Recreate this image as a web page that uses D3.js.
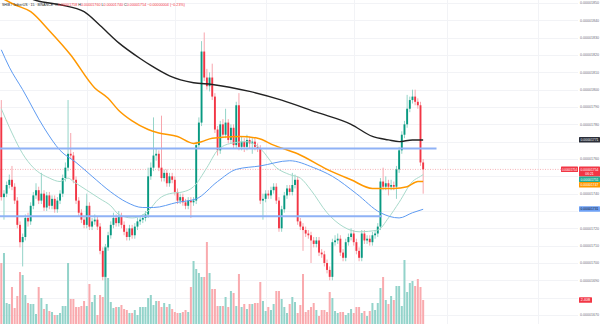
<!DOCTYPE html>
<html><head><meta charset="utf-8">
<script src="https://cdn.jsdelivr.net/npm/d3@7"></script>
<style>html,body{margin:0;padding:0;background:#fff;overflow:hidden}svg{display:block;font-family:"Liberation Sans",Arial,sans-serif}</style>
</head><body><svg id="c" width="600" height="324"></svg>
<script>
// prices in units of 1e-8 USDT
const opens = [1784,1738,1740,1745,1748,1744,1736,1722,1712,1715,
 1726,1724,1733,1739,1742,1736,1740,1732,1739,1733,
 1737,1731,1736,1740,1749,1755,1763,1762,1748,1736,
 1729,1725,1722,1733,1721,1724,1725,1721,1707,1692,
 1709,1716,1722,1726,1723,1727,1722,1718,1715,1720,
 1716,1721,1724,1725,1726,1728,1750,1755,1762,1763,
 1755,1749,1752,1746,1750,1748,1741,1736,1738,1735,
 1733,1736,1735,1736,1768,1781,1822,1807,1802,1807,
 1796,1777,1765,1780,1774,1781,1771,1778,1768,1791,
 1767,1770,1767,1771,1769,1770,1767,1766,1736,1737,
 1740,1739,1742,1744,1736,1720,1731,1739,1743,1741,
 1745,1748,1724,1721,1719,1717,1716,1713,1711,1713,
 1706,1705,1700,1696,1692,1712,1713,1714,1706,1703,
 1712,1715,1717,1712,1707,1703,1717,1713,1714,1712,
 1716,1717,1721,1747,1744,1746,1744,1745,1744,1754,
 1765,1774,1780,1789,1794,1796,1793,1791,1758];
const highs = [1794,1742,1747,1751,1756,1746,1738,1724,1717,1728,
 1729,1735,1741,1746,1744,1752,1742,1741,1741,1739,
 1739,1738,1742,1751,1758,1794,1775,1764,1750,1738,
 1731,1727,1740,1735,1726,1728,1727,1723,1709,1711,
 1718,1724,1729,1728,1730,1729,1724,1720,1722,1722,
 1723,1726,1727,1728,1730,1755,1758,1784,1766,1765,
 1785,1754,1754,1752,1752,1750,1743,1740,1740,1737,
 1738,1738,1738,1770,1784,1828,1833,1812,1810,1815,
 1798,1779,1782,1783,1789,1783,1780,1780,1793,1798,
 1773,1772,1774,1773,1772,1772,1769,1768,1740,1742,
 1742,1744,1746,1746,1738,1733,1741,1745,1745,1752,
 1751,1750,1726,1723,1721,1719,1718,1715,1715,1715,
 1708,1707,1702,1698,1714,1716,1717,1716,1708,1714,
 1717,1720,1719,1714,1709,1719,1719,1716,1716,1718,
 1719,1723,1749,1755,1750,1748,1748,1747,1756,1767,
 1776,1782,1797,1796,1800,1800,1795,1793,1760];
const lows = [1736,1725,1738,1743,1742,1734,1720,1709,1698,1713,
 1721,1722,1731,1737,1734,1734,1730,1730,1731,1731,
 1729,1729,1734,1738,1747,1753,1760,1746,1734,1727,
 1723,1720,1720,1719,1719,1722,1719,1705,1690,1690,
 1707,1714,1720,1721,1721,1720,1716,1713,1713,1714,
 1714,1719,1722,1723,1724,1726,1748,1753,1759,1753,
 1747,1747,1744,1744,1746,1739,1734,1734,1733,1731,
 1731,1726,1733,1734,1766,1779,1805,1800,1799,1794,
 1775,1762,1763,1772,1772,1769,1769,1766,1766,1765,
 1765,1764,1765,1766,1763,1765,1764,1734,1725,1735,
 1737,1737,1740,1734,1718,1718,1729,1737,1739,1739,
 1743,1722,1719,1707,1715,1714,1700,1709,1709,1704,
 1703,1698,1694,1690,1690,1710,1711,1704,1701,1701,
 1710,1713,1710,1705,1701,1701,1711,1711,1710,1710,
 1714,1715,1719,1742,1742,1739,1742,1742,1737,1752,
 1763,1772,1778,1787,1792,1791,1789,1756,1740];
const closes = [1738,1740,1745,1748,1744,1736,1722,1712,1715,1726,
 1724,1733,1739,1742,1736,1740,1732,1739,1733,1737,
 1731,1736,1740,1749,1755,1763,1762,1748,1736,1729,
 1725,1722,1733,1721,1724,1725,1721,1707,1692,1709,
 1716,1722,1726,1723,1727,1722,1718,1715,1720,1716,
 1721,1724,1725,1726,1728,1750,1755,1762,1763,1755,
 1749,1752,1746,1750,1748,1741,1736,1738,1735,1733,
 1736,1735,1736,1768,1781,1822,1807,1802,1807,1796,
 1777,1765,1780,1774,1781,1771,1778,1768,1791,1767,
 1770,1767,1771,1769,1770,1767,1766,1736,1737,1740,
 1739,1742,1744,1736,1720,1731,1739,1743,1741,1745,
 1748,1724,1721,1719,1717,1716,1713,1711,1713,1706,
 1705,1700,1696,1692,1712,1713,1714,1706,1703,1712,
 1715,1717,1712,1707,1703,1717,1713,1714,1712,1716,
 1717,1721,1747,1744,1746,1744,1745,1744,1754,1765,
 1774,1780,1789,1794,1796,1793,1791,1758,1754];
// volume in units of 1e8 SHIB
const volumes = [61,71,21,20,37,16,28,52,49,29,
 21,20,20,10,37,26,15,20,13,12,
 9,9,11,18,18,61,25,25,17,17,
 18,23,18,40,22,29,9,29,27,78,
 46,22,16,17,17,19,15,14,11,11,
 14,9,17,17,17,26,29,19,23,23,
 17,21,17,20,15,12,11,11,12,14,
 12,37,63,55,51,47,47,82,51,35,
 35,18,18,18,27,17,33,31,18,50,
 17,20,15,20,20,21,21,42,23,13,
 17,14,20,33,33,25,17,11,20,27,
 22,11,19,50,12,14,17,21,14,8,
 14,14,12,32,26,13,11,12,12,9,
 11,15,11,17,17,11,13,8,13,21,
 14,21,36,47,24,20,28,24,38,38,
 18,64,32,41,43,38,45,37,24];
// moving averages read at candle indices
const maBlackIdx = [7,12,22,31,37,44,52,56,63,72,79,93,105,118,131,139,145,149,154,158];
const maBlackVal = [1859,1852,1849,1845,1837,1827,1818,1814,1808,1804,1803,1799,1794,1787,1780,1773,1771,1770,1771,1771];
const maOrangeIdx = [0,5,11,18,26,35,40,44,49,55,59,66,72,75,79,89,96,102,111,122,131,139,147,152,156,158];
const maOrangeVal = [1853,1849,1845,1834,1820,1801,1795,1788,1782,1777,1775,1773,1769,1770,1772,1773,1772,1768,1763,1754,1748,1743,1743,1744,1747,1747];
const maBlueIdx = [0,3,8,16,22,28,34,41,47,53,57,66,73,81,88,97,108,117,124,133,142,149,154,158];
const maBlueVal = [1823,1813,1800,1778,1765,1758,1750,1741,1735,1732,1732,1735,1737,1747,1754,1756,1759,1755,1750,1740,1729,1726,1729,1731];
const maGreenIdx = [0,4,8,12,18,22,25,27,32,37,41,44,49,55,59,63,68,72,77,81,86,92,97,103,108,112,116,122,128,134,141,145,149,154,157,158];
const maGreenVal = [1789,1775,1763,1755,1749,1747,1749,1747,1742,1737,1733,1728,1726,1730,1737,1740,1741,1744,1755,1765,1769,1770,1766,1755,1751,1749,1742,1729,1721,1718,1719,1726,1735,1747,1750,1751];
// horizontal levels: price and last index they reach
const levelPrices = [1766, 1727];
const levelEnds = [163, 142.6];
const priceTicks = [1850,1840,1830,1820,1810,1800,1790,1780,1770,1760,1750,1740,1730,1720,1710,1700,1690,1680,1670];
const timeGridIdx = [32,65,99,132,167,201];
const symbolTitle = "SHIB / TetherUS · 15 · BINANCE";

const W=600,H=324,plotR=578;
const fmt = p => (p/1e8).toFixed(8);
const svg = d3.select('#c');
const N = closes.length;
const x = d3.scaleLinear().domain([0,158]).range([1.3,1.3+158*2.67]);
const y = d3.scaleLinear().domain([1664.8,1851.73]).range([H,0]);
const yv = d3.scaleLinear().domain([0,100]).range([H,H-100]);

svg.append('defs').append('clipPath').attr('id','clip').append('rect').attr('width',plotR).attr('height',H);
const plot = svg.append('g').attr('clip-path','url(#clip)');

// grid
plot.selectAll('.hg').data(priceTicks).join('line')
  .attr('x1',0).attr('x2',plotR).attr('y1',d=>Math.round(y(d))+0.5).attr('y2',d=>Math.round(y(d))+0.5)
  .attr('stroke','#f2f3f6').attr('stroke-width',1);
plot.selectAll('.vg').data(timeGridIdx).join('line')
  .attr('y1',0).attr('y2',H).attr('x1',d=>Math.round(x(d))+0.5).attr('x2',d=>Math.round(x(d))+0.5)
  .attr('stroke','#f2f3f6').attr('stroke-width',1);

const up = i => closes[i] >= opens[i];
const idx = d3.range(N);
// volume
plot.selectAll('.vol').data(idx).join('rect')
  .attr('x',i=>x(i)-1).attr('width',2)
  .attr('y',i=>yv(volumes[i])).attr('height',i=>H-yv(volumes[i]))
  .attr('fill',i=>up(i)?'#93d3ca':'#f9aaae');

// current price dotted line
const last = N-1;
plot.append('line').attr('x1',0).attr('x2',plotR).attr('y1',y(closes[last])).attr('y2',y(closes[last]))
  .attr('stroke','#f6b3b8').attr('stroke-width',1).attr('stroke-dasharray','1,1.5');

// candles
plot.selectAll('.wick').data(idx).join('line')
  .attr('x1',i=>x(i)).attr('x2',i=>x(i)).attr('y1',i=>y(highs[i])).attr('y2',i=>y(lows[i]))
  .attr('stroke',i=>up(i)?'#94d4c8':'#f7a6ad').attr('stroke-width',1);
plot.selectAll('.body').data(idx).join('rect')
  .attr('x',i=>x(i)-0.95).attr('width',1.9)
  .attr('y',i=>y(Math.max(opens[i],closes[i])))
  .attr('height',i=>Math.max(0.9,Math.abs(y(opens[i])-y(closes[i]))))
  .attr('fill',i=>up(i)?'#089981':'#f23645');

// moving averages
const line = d3.line().x(d=>x(d[0])).y(d=>y(d[1])).curve(d3.curveMonotoneX);
const ma = (ix,vals,color,w) => plot.append('path').attr('d',line(ix.map((k,j)=>[k,vals[j]])))
  .attr('fill','none').attr('stroke',color).attr('stroke-width',w);
ma(maGreenIdx,maGreenVal,'#a8dacb',1);
ma(maBlueIdx,maBlueVal,'#5e9bf2',1);
ma(maOrangeIdx,maOrangeVal,'#ff9800',1.5);
ma(maBlackIdx,maBlackVal,'#222222',1.4);

// horizontal levels
plot.selectAll('.lvl').data(levelPrices).join('line')
  .attr('x1',0).attr('x2',(d,j)=>x(levelEnds[j])).attr('y1',d=>y(d)).attr('y2',d=>y(d))
  .attr('stroke','#8fb2f6').attr('stroke-width',2);

// legend
const leg = svg.append('g');
leg.append('text').attr('x',2).attr('y',5.6).attr('font-size',3.6).attr('fill','#131722')
  .attr('textLength',51).attr('lengthAdjust','spacingAndGlyphs').text(symbolTitle);
const chg = closes[last]-closes[last-1];
const t2 = leg.append('text').attr('x',55).attr('y',5.6).attr('font-size',3.6)
  .attr('textLength',130).attr('lengthAdjust','spacingAndGlyphs');
const col = chg>=0?'#089981':'#f23645';
[['O',fmt(opens[last])],['H',fmt(highs[last])],['L',fmt(lows[last])],['C',fmt(closes[last])]].forEach(([k,v])=>{
  t2.append('tspan').attr('fill','#131722').text(k);
  t2.append('tspan').attr('fill',col).text(v+' ');
});
t2.append('tspan').attr('fill',col).text((chg>=0?'+':'−')+fmt(Math.abs(chg))+' ('+(chg>=0?'+':'−')+Math.abs(chg/closes[last-1]*100).toFixed(2)+'%)');

// value labels on axis with overlap resolution
const labels = [
  {v:maBlackVal[maBlackVal.length-1],bg:'#2a2e39',fg:'#fff',h:5.5},
  {v:closes[last],bg:'#f23645',fg:'#fff',h:10,two:true},
  {v:maGreenVal[maGreenVal.length-1],bg:'#22ab94',fg:'#fff',h:5.5},
  {v:maOrangeVal[maOrangeVal.length-1],bg:'#ff9800',fg:'#fff',h:5.5},
  {v:maBlueVal[maBlueVal.length-1],bg:'#6ea1f5',fg:'#131722',h:5.5}
];
labels.forEach(l=>{l.top=y(l.v)-2.9;});
labels.sort((a,b)=>a.top-b.top);
let prevB=-1e9;
labels.forEach(l=>{ if(l.top<prevB) l.top=prevB; prevB=l.top+l.h; });
const vy = yv(volumes[last]);
const boxes = labels.map(l=>[l.top,l.top+l.h]).concat([[vy-2.75,vy+2.75]]);

// price axis labels (hidden where a value label covers them)
const ax = svg.append('g');
const visTicks = priceTicks.filter(t=>{const ty=y(t); return !boxes.some(b=>ty>b[0]-2.6 && ty<b[1]+2.6);});
ax.selectAll('.tl').data(visTicks).join('text')
  .attr('x',589.5).attr('y',d=>y(d)+1.3).attr('text-anchor','middle').attr('font-size',3.6)
  .attr('fill','#6a6d78').attr('textLength',19).attr('lengthAdjust','spacingAndGlyphs').text(fmt);

labels.forEach(l=>{
  ax.append('rect').attr('x',579).attr('y',l.top).attr('width',21).attr('height',l.h).attr('fill',l.bg).attr('rx',0.6);
  ax.append('text').attr('x',589.5).attr('y',l.top+4.1).attr('text-anchor','middle').attr('font-size',3.6)
    .attr('fill',l.fg).attr('textLength',18).attr('lengthAdjust','spacingAndGlyphs').text(fmt(l.v));
  if(l.two){
    ax.append('text').attr('x',589.5).attr('y',l.top+8.6).attr('text-anchor','middle').attr('font-size',3.4)
      .attr('fill','#fff').text('06:21');
    ax.append('rect').attr('x',561).attr('y',l.top).attr('width',17).attr('height',5.5).attr('fill',l.bg).attr('rx',0.6);
    ax.append('text').attr('x',569.5).attr('y',l.top+4.1).attr('text-anchor','middle').attr('font-size',3.4)
      .attr('fill','#fff').attr('textLength',15).attr('lengthAdjust','spacingAndGlyphs').text(fmt(l.v));
  }
});
// volume label
ax.append('rect').attr('x',579).attr('y',vy-2.75).attr('width',13).attr('height',5.5).attr('fill',up(last)?'#089981':'#f23645').attr('rx',0.6);
ax.append('text').attr('x',585.5).attr('y',vy+1.3).attr('text-anchor','middle').attr('font-size',3.6)
  .attr('fill','#fff').text((volumes[last]/10).toFixed(2)+'B');
</script></body></html>
